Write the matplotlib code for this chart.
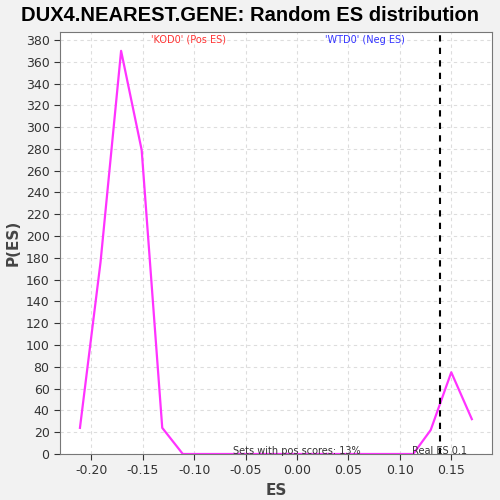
import matplotlib
matplotlib.use("Agg")
import matplotlib.pyplot as plt

es = [-0.211, -0.191, -0.171, -0.151, -0.131, -0.111, -0.091, -0.071, -0.051, -0.031,
      -0.011, 0.009, 0.029, 0.049, 0.069, 0.089, 0.113, 0.130, 0.150, 0.170]
pes = [24, 176, 370, 279, 24, 0, 0, 0, 0, 0,
       0, 0, 0, 0, 0, 0, 0, 22, 75, 32]
real_es = 0.139
xticks = [-0.20, -0.15, -0.10, -0.05, 0.00, 0.05, 0.10, 0.15]
yticks = list(range(0, 381, 20))

fig = plt.figure(figsize=(5, 5), dpi=100, facecolor="#f2f2f2")
ax = fig.add_axes([0.12, 0.092, 0.864, 0.844])
ax.set_facecolor("white")
ax.plot(es, pes, color="#ff33ff", lw=1.6)
ax.axvline(real_es, color="black", ls=(0, (3, 3)), lw=1.5)
ax.set_xlim(-0.2304, 0.1896)
ax.set_ylim(0, 387.3)
ax.set_xticks(xticks)
ax.set_xticklabels([f"{t:.2f}" for t in xticks])
ax.set_yticks(yticks)
ax.grid(True, color="#dddddd", ls=(0, (3, 3)), lw=0.8)
ax.set_axisbelow(True)
for s in ax.spines.values():
    s.set_color("#777777")
ax.tick_params(colors="#333333", labelsize=9, length=4)
ax.set_xlabel("ES", fontsize=11, fontweight="bold", color="#444444")
ax.set_ylabel("P(ES)", fontsize=11, fontweight="bold", color="#444444")
fig.suptitle("DUX4.NEAREST.GENE: Random ES distribution", fontsize=14.5,
             fontweight="bold", family="Liberation Sans", x=0.5, y=0.988)
ax.text(-0.105, 380, "'KOD0' (Pos ES)", color="#ff3333", fontsize=7, ha="center", va="center")
ax.text(0.066, 380, "'WTD0' (Neg ES)", color="#3333ff", fontsize=7, ha="center", va="center")
ax.text(0.0, 2.5, "Sets with pos scores: 13%", color="#333333", fontsize=7, ha="center", va="center")
ax.text(0.112, 2.5, "Real ES 0.1", color="#333333", fontsize=7, ha="left", va="center")
fig.savefig("out.png", dpi=100, facecolor=fig.get_facecolor())
